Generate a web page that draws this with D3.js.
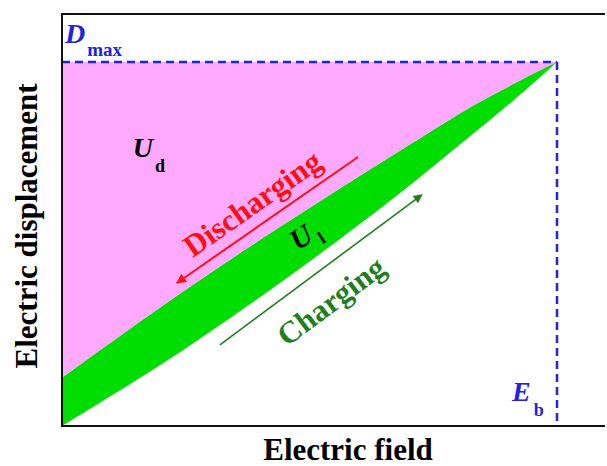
<!DOCTYPE html>
<html>
<head>
<meta charset="utf-8">
<script src="https://cdn.jsdelivr.net/npm/d3@7"></script>
<style>
  html, body { margin: 0; padding: 0; background: #fff; overflow: hidden; }
  svg { display: block; }
  text { font-family: "Liberation Serif", "Times New Roman", serif; font-weight: bold; }
</style>
</head>
<body>
<svg id="chart" width="607" height="466"></svg>
<script>
// ---- data (normalised: E / Eb, D / Dmax) ----
const chargeE    = [0, 0.2, 0.4, 0.55, 0.683, 0.8, 0.915, 1];
const chargeD    = [0, 0.169, 0.354, 0.502, 0.640, 0.769, 0.898, 1];
const dischargeE = [0, 0.2, 0.37, 0.55, 0.683, 0.844, 1];
const dischargeD = [0.132, 0.327, 0.484, 0.642, 0.756, 0.890, 1];
const Eb = 1;
const Dmax = 1;
const xLabel = "Electric field";
const yLabel = "Electric displacement";

const W = 607, H = 466;
const m = { left: 62, right: 0, top: 14, bottom: 40 };
const svg = d3.select("#chart");

const x = d3.scaleLinear().domain([0, 1.101]).range([m.left, W - m.right]);
const y = d3.scaleLinear().domain([0, 1.132]).range([H - m.bottom, m.top]);

const charge = chargeE.map((e, i) => [e, chargeD[i]]);
const discharge = dischargeE.map((e, i) => [e, dischargeD[i]]);

const curve = d3.curveCatmullRom.alpha(0.5);
const lineGen = d3.line().x(d => x(d[0])).y(d => y(d[1])).curve(curve);

// pink region U_d : between discharge curve and D = Dmax
const pinkArea = d3.area().x(d => x(d[0])).y0(d => y(d[1])).y1(y(Dmax)).curve(curve);
svg.append("path").datum(discharge).attr("d", pinkArea).attr("fill", "#ffaaff");

// green region U_l : between discharge curve (top) and charge curve (bottom)
const upperPath = lineGen(discharge);
const lowerRev = lineGen(charge.slice().reverse());
svg.append("path")
  .attr("d", upperPath + "L" + lowerRev.slice(1) + "Z")
  .attr("fill", "#00dd00");

// dashed guides
const blue = "#2222e0";
svg.append("line")
  .attr("x1", x(0)).attr("x2", x(Eb)).attr("y1", y(Dmax)).attr("y2", y(Dmax))
  .attr("stroke", blue).attr("stroke-width", 2.5).attr("stroke-dasharray", "8,5");
svg.append("line")
  .attr("x1", x(Eb)).attr("x2", x(Eb)).attr("y1", y(Dmax)).attr("y2", y(0))
  .attr("stroke", blue).attr("stroke-width", 2.5).attr("stroke-dasharray", "8,5");

// frame: left, top and bottom lines only (right edge lies outside the picture)
const frame = svg.append("g").attr("stroke", "#111").attr("stroke-width", 2);
frame.append("line").attr("x1", x(0)).attr("x2", W - 2).attr("y1", y(1.132)).attr("y2", y(1.132));
frame.append("line").attr("x1", x(0)).attr("x2", W - 2).attr("y1", y(0)).attr("y2", y(0));
frame.append("line").attr("x1", x(0)).attr("x2", x(0)).attr("y1", y(1.132) - 1).attr("y2", y(0) + 1);

// arrows
const defs = svg.append("defs");
function marker(id, color, w, h) {
  defs.append("marker").attr("id", id).attr("viewBox", "0 0 10 10")
    .attr("refX", 9).attr("refY", 5).attr("markerWidth", w).attr("markerHeight", h)
    .attr("markerUnits", "userSpaceOnUse").attr("orient", "auto")
    .append("path").attr("d", "M0,0L10,5L0,10Z").attr("fill", color);
}
const red = "#ff1010", dgreen = "#1f7f1f";
marker("arRed", red, 12, 10);
marker("arGreen", dgreen, 11, 9);

svg.append("line")
  .attr("x1", x(0.598)).attr("y1", y(0.739)).attr("x2", x(0.232)).attr("y2", y(0.393))
  .attr("stroke", red).attr("stroke-width", 2).attr("marker-end", "url(#arRed)");
svg.append("line")
  .attr("x1", x(0.319)).attr("y1", y(0.223)).attr("x2", x(0.727)).attr("y2", y(0.635))
  .attr("stroke", dgreen).attr("stroke-width", 1.6).attr("marker-end", "url(#arGreen)");

// rotated labels
svg.append("text")
  .attr("transform", `translate(${x(0.384)},${y(0.612)}) rotate(-35)`)
  .attr("text-anchor", "middle").attr("dy", "0.35em")
  .attr("font-size", 31).attr("fill", red).text("Discharging");
svg.append("text")
  .attr("transform", `translate(${x(0.543)},${y(0.344)}) rotate(-37)`)
  .attr("text-anchor", "middle").attr("dy", "0.35em")
  .attr("font-size", 31).attr("fill", dgreen).text("Charging");

const ul = svg.append("text")
  .attr("transform", `translate(${x(0.495)},${y(0.516)}) rotate(-33)`)
  .attr("text-anchor", "middle").attr("dy", "0.35em").attr("fill", "#000");
ul.append("tspan").attr("font-size", 29).attr("font-style", "italic").text("U");
ul.append("tspan").attr("font-size", 18).attr("dy", 8).attr("dx", 4).text("l");

// U_d
const ud = svg.append("text").attr("x", x(0.143)).attr("y", y(0.739)).attr("fill", "#000");
ud.append("tspan").attr("font-size", 28).attr("font-style", "italic").text("U");
ud.append("tspan").attr("font-size", 18).attr("dy", 15).attr("dx", 2).text("d");

// D_max
const dm = svg.append("text").attr("x", x(0) + 3).attr("y", 43).attr("fill", blue);
dm.append("tspan").attr("font-size", 28).attr("font-style", "italic").text("D");
dm.append("tspan").attr("font-size", 19).attr("dy", 13).attr("dx", 2).text("max");

// E_b
const eb = svg.append("text").attr("x", x(Eb) - 45).attr("y", 401).attr("fill", blue);
eb.append("tspan").attr("font-size", 28).attr("font-style", "italic").text("E");
eb.append("tspan").attr("font-size", 18).attr("dy", 15).attr("dx", 3).text("b");

// axis titles
svg.append("text").attr("x", 348).attr("y", 460).attr("text-anchor", "middle")
  .attr("font-size", 31).attr("fill", "#000").text(xLabel);
svg.append("text").attr("transform", `translate(37,${226}) rotate(-90)`)
  .attr("text-anchor", "middle").attr("font-size", 31).attr("fill", "#000").text(yLabel);
</script>
</body>
</html>
